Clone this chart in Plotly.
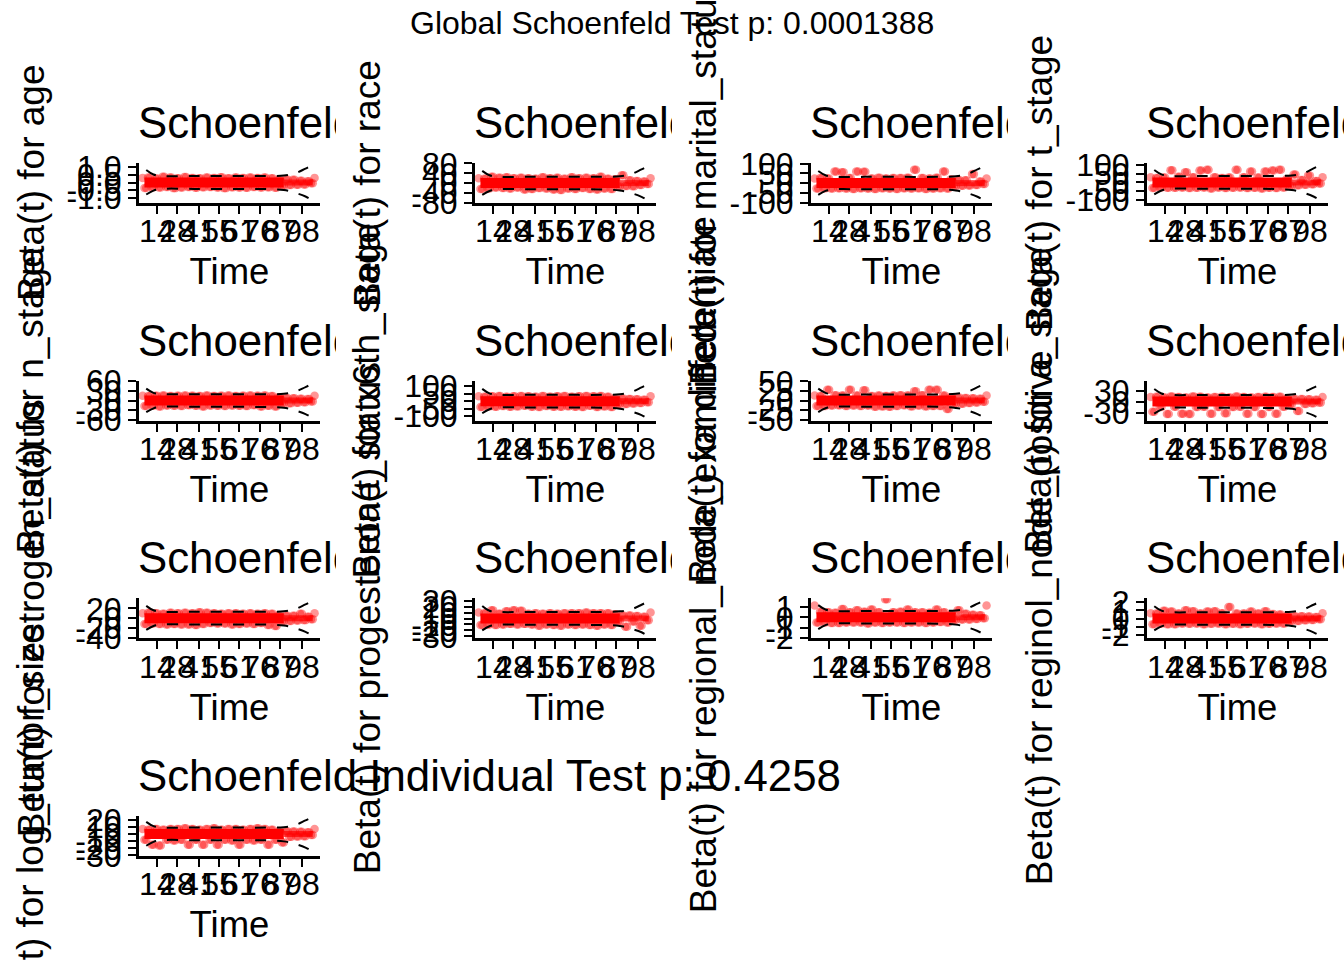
import plotly.graph_objects as go

FONT = "Liberation Sans"

time_km = [0.02,0.04,0.06,0.08,0.10,0.12,0.14,0.16,0.18,0.20,0.22,0.24,0.26,0.28,0.30,0.32,
           0.34,0.36,0.38,0.40,0.42,0.44,0.46,0.48,0.50,0.52,0.54,0.56,0.58,0.60,0.62,0.64,
           0.66,0.68,0.70,0.72,0.74,0.76,0.78,0.80,0.82,0.84,0.86,0.88,0.90,0.92,0.94,0.96]
time_km_b = [0.03,0.05,0.07,0.09,0.11,0.13,0.15,0.17,0.19,0.21,0.23,0.25,0.27,0.29,0.31,0.33,
             0.35,0.37,0.39,0.41,0.43,0.45,0.47,0.49,0.51,0.53,0.55,0.57,0.59,0.61,0.63,0.65,
             0.67,0.69,0.71,0.73,0.75,0.77,0.79,0.81,0.83,0.85,0.87,0.89,0.91,0.93,0.95,0.97]
ci_time = [0.04,0.08,0.13,0.30,0.50,0.70,0.80,0.86,0.92,0.97]
core_time = [0.03,0.40,0.80]
core_tail_time = [0.80,0.88,0.96]
core_beta = [0,0,0]
x_tick_vals = [0.099,0.21,0.331,0.442,0.552,0.669,0.78,0.901]
x_tick_text = ["14","28","41","55","61","76","87","98"]

resid_age = [.3,-.35,.32,-.3,.26,-.32,.38,-.28,.32,-.36,.28,-.32,.35,-.28,.3,-.33,.28,-.3,.32,-.28,.3,-.32,.34,-.36,.28,-.3,.32,-.32,.3,-.34,.32,-.28,.3,-.32,.33,-.3,.28,-.34,.2,-.22,.2,-.16,.18,-.15,.12,-.12,.09,-.05]
resid_race = [20,-24,18,-22,26,-18,22,-20,24,-22,20,-18,22,-26,20,-24,18,-20,24,-22,20,-26,22,-28,18,-22,24,-24,20,-20,22,-24,20,-26,26,-22,18,-24,16,-14,32,-12,12,-13,9,-8,7,-4]
resid_marital = [24,-28,26,-26,24,-28,60,-26,55,-28,26,-30,60,-26,58,-28,24,-30,28,-26,24,-28,26,-30,26,-26,28,-28,68,-26,26,-30,24,-28,28,-26,60,-28,18,-16,16,-14,14,-12,46,-10,8,-5]
resid_t = [30,-32,26,-28,28,-30,70,-30,32,-28,58,-32,30,-30,68,-28,72,-34,30,-28,26,-32,28,-30,72,-28,30,-32,62,-30,28,-34,62,-30,68,-32,72,-28,20,-18,45,-16,14,-13,40,-10,9,-6]
resid_n = [15,-17,14,-16,15,-18,16,-15,14,-16,15,-17,16,-14,15,-16,14,-18,16,-15,14,-16,15,-17,16,-15,14,-16,15,-17,16,-14,15,-18,16,-16,14,-18,10,-9,8,-8,7,-7,6,-5,5,-3]
resid_x6 = [33,-38,30,-34,33,-36,35,-32,30,-36,33,-34,35,-30,33,-36,30,-38,35,-32,30,-36,33,-36,35,-33,30,-36,33,-38,35,-30,33,-38,35,-34,30,-38,20,-20,18,-18,16,-15,13,-11,10,-7]
resid_diff = [13,-14,12,-14,28,-13,14,-12,13,-14,28,-13,13,-14,27,-13,12,-16,13,-15,12,-16,13,-14,14,-12,13,-15,24,-13,14,-15,28,-14,28,-14,13,-22,9,-8,8,-8,7,-6,6,-5,5,-3]
resid_a = [12,-28,13,-15,11,-34,14,-14,12,-33,11,-34,14,-15,13,-14,11,-33,12,-15,13,-32,11,-15,14,-14,12,-33,11,-15,12,-34,13,-15,12,-33,13,-14,8,-8,7,-26,7,-7,6,-5,5,-3]
resid_estrogen = [10,-12,11,-11,10,-12,9,-13,11,-12,10,-13,11,-13,10,-14,12,-12,11,-10,10,-11,9,-11,10,-13,10,-12,9,-11,10,-12,9,-10,10,-14,9,-16,6,-7,5,-6,5,-5,9,-4,3,-2]
resid_progesterone = [10,-11,9,-10,14,-11,8,-10,12,-9,14,-10,13,-9,8,-10,9,-12,8,-10,9,-11,8,-12,9,-10,9,-11,9,-10,10,-11,9,-12,9,-10,9,-11,7,-5,5,-14,5,-5,4,-12,3,-3]
resid_regional = [1.15,-.5,.55,-.5,.5,-.55,.45,-.55,.8,-.5,.5,-.5,.7,-.5,.55,-.6,.75,-.5,.5,-.55,1.75,-.5,.5,-.5,.55,-.55,.75,-.5,.5,-.5,.5,-.55,.45,-.5,.75,-.45,.5,-.5,.28,-.25,.7,-.22,.35,-.2,.25,-.16,.2,-.1]
resid_positive = [.65,-.7,.6,-.65,.95,-.7,.85,-.7,.6,-.6,1,-.65,.9,-.6,.6,-.7,.85,-.65,.9,-.6,.65,-.7,1.4,-.65,.6,-.7,.6,-.65,.85,-.6,.6,-.7,.9,-.65,.55,-.6,.5,-.6,.3,-.33,.28,-.3,.27,-.22,.24,-.18,.18,-.1]
resid_log = [7,-8,6,-15,7,-16,6,-8,7,-9,7,-8,8,-15,7,-8,6,-15,7,-8,8,-15,6,-8,7,-9,7,-15,6,-8,7,-9,8,-8,7,-15,6,-8,4,-12,4,-4,3.5,-3.5,3,-3,2.5,-1.5]

ciu_age = [.81,.52,.42,.42,.42,.42,.45,.58,.9,1.19]
cil_age = [-.77,-.52,-.41,-.41,-.41,-.42,-.48,-.65,-.9,-1.23]
ciu_race = [50,32,26,26,26,26,28,36,56,74]
cil_race = [-48,-32,-25,-25,-25,-26,-30,-40,-56,-76]
ciu_marital = [62,40,32,32,32,32,35,45,70,92]
cil_marital = [-60,-40,-32,-32,-32,-32,-38,-50,-70,-95]
ciu_t = [71,46,37,37,37,37,40,51,80,105]
cil_t = [-68,-46,-36,-36,-36,-37,-43,-57,-80,-108]
ciu_n = [37,24,20,20,20,20,21,27,42,55]
cil_n = [-36,-24,-19,-19,-19,-20,-22,-30,-42,-57]
ciu_x6 = [83,53,43,43,43,43,47,60,93,123]
cil_x6 = [-80,-53,-42,-42,-42,-43,-50,-67,-93,-127]
ciu_diff = [31,20,16,16,16,16,18,22,35,46]
cil_diff = [-30,-20,-16,-16,-16,-16,-19,-25,-35,-47]
ciu_a = [34,22,18,18,18,18,19,25,38,50]
cil_a = [-33,-22,-17,-17,-17,-18,-20,-27,-38,-52]
ciu_estrogen = [25,16,13,13,13,13,14,18,28,37]
cil_estrogen = [-24,-16,-13,-13,-13,-13,-15,-20,-28,-38]
ciu_progesterone = [21,13,11,11,11,11,12,15,23,31]
cil_progesterone = [-20,-13,-10.5,-10.5,-10.5,-11,-12.5,-17,-23,-32]
ciu_regional = [1.19,.76,.62,.62,.62,.62,.67,.86,1.33,1.76]
cil_regional = [-1.14,-.76,-.6,-.6,-.6,-.62,-.71,-.95,-1.33,-1.8]
ciu_positive = [1.5,.96,.78,.78,.78,.78,.84,1.08,1.68,2.22]
cil_positive = [-1.44,-.96,-.76,-.76,-.76,-.78,-.9,-1.2,-1.68,-2.28]
ciu_log = [17,11,9,9,9,9,9.6,12.3,19,25]
cil_log = [-16.4,-11,-8.6,-8.6,-8.6,-8.9,-10.3,-13.7,-19,-26]

# (variable, residuals, ci upper, ci lower, y range, y ticks, y tick labels)
panels = [
    ("age", resid_age, ciu_age, cil_age, [-1.32,1.26], [1,.5,0,-.5,-1], ["1.0","0.5","0.0","-0.5","-1.0"]),
    ("race", resid_race, ciu_race, cil_race, [-81,82], [80,40,0,-40,-80], ["80","40","0","-40","-80"]),
    ("marital_status", resid_marital, ciu_marital, cil_marital, [-102,103], [100,50,0,-50,-100], ["100","50","0","-50","-100"]),
    ("t_stage", resid_t, ciu_t, cil_t, [-117,111], [100,50,0,-50,-100], ["100","50","0","-50","-100"]),
    ("n_stage", resid_n, ciu_n, cil_n, [-62,62], [60,30,0,-30,-60], ["60","30","0","-30","-60"]),
    ("x6th_stage", resid_x6, ciu_x6, cil_x6, [-129,138], [100,50,0,-50,-100], ["100","50","0","-50","-100"]),
    ("differentiate", resid_diff, ciu_diff, cil_diff, [-52,52], [50,25,0,-25,-50], ["50","25","0","-25","-50"]),
    ("a_stage", resid_a, ciu_a, cil_a, [-52,57], [30,0,-30], ["30","0","-30"]),
    ("estrogen_status", resid_estrogen, ciu_estrogen, cil_estrogen, [-40.8,40.6], [20,0,-20,-40], ["20","0","-20","-40"]),
    ("progesterone_status", resid_progesterone, ciu_progesterone, cil_progesterone, [-33,34], [30,20,10,0,-10,-20,-30], ["30","20","10","0","-10","-20","-30"]),
    ("regional_node_examined", resid_regional, ciu_regional, cil_regional, [-2.03,1.86], [1,0,-1,-2], ["1","0","-1","-2"]),
    ("reginol_node_positive", resid_positive, ciu_positive, cil_positive, [-2.4,2.48], [2,1,0,-1,-2], ["2","1","0","-1","-2"]),
    ("log_tumor_size", resid_log, ciu_log, cil_log, [-30.5,25.5], [20,10,0,-10,-20,-30], ["20","10","0","-10","-20","-30"]),
]

W, H = 1344, 960
fig = go.Figure()
layout = dict(
    width=W, height=H, margin=dict(l=0, r=0, t=0, b=0, autoexpand=False),
    paper_bgcolor="white", plot_bgcolor="white", showlegend=False,
    font=dict(family=FONT, color="black"),
)
annots = [dict(text="Global Schoenfeld Test p: 0.0001388", x=672/W, y=1-23/H, xref="paper", yref="paper",
               xanchor="center", yanchor="middle", showarrow=False, font=dict(size=32, family=FONT, color="black"))]

def ax_style():
    return dict(showgrid=False, zeroline=False, showline=True, linecolor="black", linewidth=3,
                ticks="outside", ticklen=8, tickwidth=2.2, tickcolor="black",
                tickfont=dict(size=32, family=FONT, color="black"), tickangle=0, tickmode="array")

TITLE_SIZE = 43.8
for i, (name, resid, ciu, cil, yr, yt, ytl) in enumerate(panels):
    assert len(resid) == len(time_km), name
    r, c = i // 4, i % 4
    left = 139 + 336*c
    right = left + 181
    top = 163 + 217.6*r
    bottom = top + 40
    s = "" if i == 0 else str(i+1)
    xa, ya = "x"+s, "y"+s
    fig.add_trace(go.Scatter(x=core_time, y=core_beta, mode="lines", xaxis=xa, yaxis=ya,
                             line=dict(color="rgb(255,0,0)", width=10), hoverinfo="skip"))
    fig.add_trace(go.Scatter(x=core_tail_time, y=core_beta, mode="lines", xaxis=xa, yaxis=ya,
                             line=dict(color="rgba(255,0,0,0.7)", width=6), hoverinfo="skip"))
    fig.add_trace(go.Scatter(x=time_km, y=resid, mode="markers", xaxis=xa, yaxis=ya,
                             marker=dict(color="rgb(255,0,0)", size=8.5, opacity=0.42, line=dict(width=0))))
    fig.add_trace(go.Scatter(x=time_km_b, y=resid[1:]+resid[:1], mode="markers", xaxis=xa, yaxis=ya,
                             marker=dict(color="rgb(255,0,0)", size=8.5, opacity=0.42, line=dict(width=0))))
    for ci in (ciu, cil):
        fig.add_trace(go.Scatter(x=ci_time, y=ci, mode="lines", xaxis=xa, yaxis=ya,
                                 line=dict(color="black", width=2, dash="11px,11px", shape="spline"), hoverinfo="skip"))
    layout["xaxis"+s] = dict(ax_style(), domain=[left/W, right/W], range=[0,1], anchor=ya,
                             tickvals=x_tick_vals, ticktext=x_tick_text, ticklabelstandoff=-10,
                             title=dict(text="Time", font=dict(size=36.5, family=FONT, color="black"), standoff=11))
    layout["yaxis"+s] = dict(ax_style(), domain=[1-bottom/H, 1-top/H], range=yr, anchor=xa,
                             tickvals=yt, ticktext=ytl)
    annots.append(dict(text="Beta(t) for "+name, x=(31+336*c)/W, y=1-(top+20)/H, xref="paper", yref="paper",
                       textangle=-90, xanchor="center", yanchor="middle", showarrow=False,
                       font=dict(size=37, family=FONT, color="black")))
    if i == 12:
        annots.append(dict(text="Schoenfeld Individual Test p: 0.4258", x=(left-3)/W, y=1-(top-40)/H,
                           xref="paper", yref="paper", xanchor="left", yanchor="middle", showarrow=False,
                           font=dict(size=TITLE_SIZE, family=FONT, color="black")))
    else:
        # The cell clips this title at its right edge, as in the reference.
        j = 14 + i
        tx, ty = "x"+str(j), "y"+str(j)
        fig.add_trace(go.Scatter(x=[0], y=[0], mode="text", text=["Schoenfeld"], textposition="middle right",
                                 xaxis=tx, yaxis=ty, cliponaxis=True, hoverinfo="skip",
                                 textfont=dict(size=TITLE_SIZE, family=FONT, color="black")))
        layout["xaxis"+str(j)] = dict(visible=False, domain=[(left-1)/W, min(336*(c+1), W)/W], range=[0,1], anchor=ty)
        layout["yaxis"+str(j)] = dict(visible=False, domain=[1-(top-6)/H, 1-(top-66)/H], range=[-1,1], anchor=tx)
layout["annotations"] = annots
fig.update_layout(**layout)
fig.write_html("out.html", config=dict(displayModeBar=False), post_script="document.body.style.margin='0';")
